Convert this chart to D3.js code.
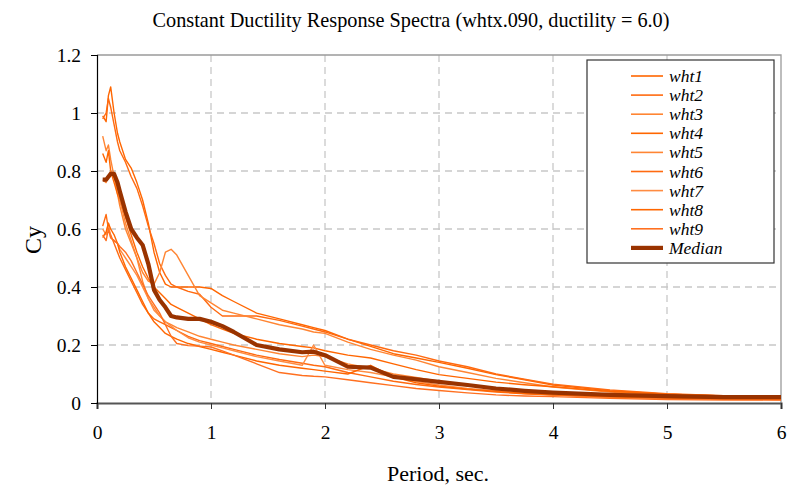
<!DOCTYPE html>
<html>
<head>
<meta charset="utf-8">
<script src="https://cdn.jsdelivr.net/npm/d3@7/dist/d3.min.js"></script>
<style>
  body { margin: 0; background: #fff; }
  text { font-family: "Liberation Serif", "Times New Roman", serif; fill: #000; }
</style>
</head>
<body>
<div id="chart"></div>
<script>
// periods (sec) shared by every series
const periods = [0.05,0.08,0.1,0.12,0.15,0.18,0.2,0.25,0.3,0.35,0.4,0.45,0.5,0.55,0.6,0.65,0.7,0.8,0.9,1.0,
                 1.1,1.2,1.4,1.6,1.8,1.9,2.0,2.2,2.4,2.6,2.8,3.0,3.25,3.5,3.75,4.0,4.5,5.0,5.5,6.0];

const wht1 = [0.99,0.97,1.06,1.09,1.00,0.93,0.90,0.84,0.81,0.76,0.70,0.62,0.52,0.45,0.41,0.40,0.40,0.40,0.40,0.395,
              0.37,0.35,0.31,0.29,0.27,0.26,0.25,0.22,0.195,0.17,0.155,0.14,0.12,0.098,0.08,0.062,0.042,0.03,0.024,0.02];
const wht2 = [0.98,1.00,1.05,1.02,0.96,0.90,0.87,0.83,0.78,0.74,0.68,0.61,0.55,0.48,0.44,0.41,0.40,0.385,0.375,0.33,
              0.30,0.30,0.30,0.285,0.265,0.255,0.245,0.22,0.20,0.18,0.165,0.145,0.125,0.10,0.082,0.065,0.045,0.032,0.025,0.02];
const wht3 = [0.92,0.87,0.89,0.84,0.78,0.72,0.68,0.60,0.55,0.50,0.45,0.42,0.41,0.45,0.52,0.53,0.51,0.44,0.37,0.345,
              0.32,0.31,0.29,0.27,0.255,0.245,0.24,0.21,0.185,0.165,0.148,0.125,0.105,0.085,0.07,0.055,0.038,0.028,0.022,0.018];
const wht4 = [0.86,0.83,0.87,0.80,0.76,0.72,0.70,0.64,0.58,0.52,0.47,0.43,0.40,0.38,0.36,0.34,0.33,0.31,0.29,0.27,
              0.255,0.24,0.22,0.205,0.195,0.19,0.18,0.165,0.155,0.135,0.115,0.098,0.085,0.072,0.063,0.056,0.04,0.03,0.024,0.02];
const wht5 = [0.77,0.76,0.78,0.80,0.78,0.74,0.70,0.62,0.56,0.50,0.42,0.36,0.33,0.30,0.28,0.27,0.26,0.245,0.23,0.22,
              0.21,0.20,0.185,0.17,0.16,0.165,0.16,0.135,0.12,0.10,0.088,0.075,0.062,0.052,0.042,0.035,0.027,0.022,0.018,0.016];
const wht6 = [0.61,0.65,0.60,0.58,0.55,0.52,0.50,0.46,0.42,0.38,0.34,0.31,0.29,0.28,0.27,0.26,0.25,0.23,0.215,0.205,
              0.195,0.185,0.165,0.15,0.137,0.13,0.125,0.105,0.09,0.075,0.064,0.055,0.046,0.038,0.032,0.027,0.02,0.016,0.013,0.012];
const wht7 = [0.60,0.58,0.62,0.57,0.56,0.55,0.53,0.50,0.47,0.44,0.40,0.36,0.32,0.30,0.28,0.265,0.25,0.225,0.21,0.20,
              0.19,0.18,0.16,0.145,0.13,0.20,0.13,0.115,0.105,0.09,0.075,0.062,0.05,0.042,0.035,0.028,0.02,0.016,0.013,0.012];
const wht8 = [0.57,0.59,0.62,0.60,0.58,0.55,0.52,0.47,0.43,0.39,0.35,0.31,0.28,0.26,0.24,0.23,0.22,0.205,0.195,0.185,
              0.175,0.165,0.145,0.13,0.12,0.115,0.11,0.10,0.13,0.09,0.07,0.058,0.048,0.04,0.033,0.028,0.021,0.017,0.014,0.012];
const wht9 = [0.58,0.56,0.60,0.57,0.56,0.55,0.54,0.52,0.49,0.45,0.41,0.37,0.34,0.31,0.27,0.23,0.205,0.198,0.196,0.193,
              0.18,0.165,0.135,0.105,0.095,0.092,0.09,0.08,0.07,0.06,0.05,0.043,0.035,0.028,0.024,0.022,0.016,0.012,0.01,0.01];
const median = [0.77,0.77,0.78,0.79,0.79,0.76,0.73,0.66,0.60,0.57,0.545,0.48,0.39,0.355,0.33,0.30,0.295,0.29,0.29,0.28,
                0.265,0.245,0.20,0.185,0.175,0.177,0.165,0.125,0.122,0.09,0.082,0.073,0.062,0.05,0.042,0.036,0.028,0.024,0.02,0.02];

const seriesNames = ["wht1","wht2","wht3","wht4","wht5","wht6","wht7","wht8","wht9","Median"];
const seriesValues = [wht1, wht2, wht3, wht4, wht5, wht6, wht7, wht8, wht9, median];
const seriesColors = ["#ff6600","#ff6a10","#ff8533","#ff6600","#ff8533","#ff6a10","#ff8c42","#ff6600","#ff7020","#993300"];

const xTicks = [0, 1, 2, 3, 4, 5, 6];
const yTicks = [0, 0.2, 0.4, 0.6, 0.8, 1.0, 1.2];
const yTickLabels = ["0", "0.2", "0.4", "0.6", "0.8", "1", "1.2"];

const chartTitle = "Constant Ductility Response Spectra (whtx.090, ductility = 6.0)";
const xTitle = "Period, sec.";

const W = 797, H = 488;
const margin = {top: 55, right: 16, bottom: 85, left: 97};
const innerW = W - margin.left - margin.right;
const innerH = H - margin.top - margin.bottom;

const svg = d3.select("#chart").append("svg")
    .attr("width", W)
    .attr("height", H);

const g = svg.append("g")
    .attr("transform", `translate(${margin.left},${margin.top})`);

const x = d3.scaleLinear().domain([0, 6]).range([0, innerW]);
const y = d3.scaleLinear().domain([0, 1.2]).range([innerH, 0]);

// dashed grid
g.append("g").selectAll("line")
    .data(xTicks.slice(1, -1))
    .join("line")
    .attr("x1", d => x(d)).attr("x2", d => x(d))
    .attr("y1", 0).attr("y2", innerH)
    .attr("stroke", "#c8c8c8").attr("stroke-width", 1.3)
    .attr("stroke-dasharray", "7,5");

g.append("g").selectAll("line")
    .data(yTicks.slice(1, -1))
    .join("line")
    .attr("x1", 0).attr("x2", innerW)
    .attr("y1", d => y(d)).attr("y2", d => y(d))
    .attr("stroke", "#c8c8c8").attr("stroke-width", 1.3)
    .attr("stroke-dasharray", "7,5");

// plot border (top + right)
g.append("path")
    .attr("d", `M0,${y(1.2)}H${x(6)}V${y(0)}`)
    .attr("fill", "none")
    .attr("stroke", "#9a9a9a")
    .attr("stroke-width", 1.3);

// axes
const xAxis = d3.axisBottom(x).tickValues(xTicks).tickSize(6).tickPadding(16).tickFormat(d3.format("d"));
const yAxis = d3.axisLeft(y).tickValues(yTicks).tickSize(6).tickPadding(10)
    .tickFormat((d, i) => yTickLabels[i]);

const xAxisG = g.append("g")
    .attr("transform", `translate(0,${innerH})`)
    .call(xAxis);
xAxisG.select(".domain").attr("stroke", "#555").attr("stroke-width", 2.2);
xAxisG.selectAll(".tick line").attr("stroke", "#333");
xAxisG.selectAll("text").attr("font-size", 19.5).attr("font-family", "Liberation Serif");

const yAxisG = g.append("g").call(yAxis);
yAxisG.select(".domain").attr("stroke", "#000").attr("stroke-width", 1.2);
yAxisG.selectAll(".tick line").attr("stroke", "#000");
yAxisG.selectAll("text").attr("font-size", 19.5).attr("font-family", "Liberation Serif");

// series lines
const line = d3.line()
    .x((d, i) => x(periods[i]))
    .y(d => y(d))
    .curve(d3.curveLinear);

g.append("g").selectAll("path")
    .data(seriesValues)
    .join("path")
    .attr("d", d => line(d))
    .attr("fill", "none")
    .attr("stroke", (d, i) => seriesColors[i])
    .attr("stroke-width", (d, i) => i === 9 ? 4.2 : 1.4)
    .attr("stroke-linejoin", "round");

// titles
svg.append("text")
    .attr("x", 411).attr("y", 27)
    .attr("text-anchor", "middle")
    .attr("font-size", 21)
    .attr("textLength", 517)
    .attr("lengthAdjust", "spacingAndGlyphs")
    .text(chartTitle);

svg.append("text")
    .attr("x", 438).attr("y", 481)
    .attr("text-anchor", "middle")
    .attr("font-size", 22)
    .text(xTitle);

const yLab = svg.append("text")
    .attr("transform", "translate(41,240) rotate(-90)")
    .attr("text-anchor", "middle")
    .attr("font-size", 24);
yLab.append("tspan").text("C");
yLab.append("tspan").text("y");

// legend
const legend = svg.append("g").attr("transform", "translate(587,60)");
legend.append("rect")
    .attr("width", 187).attr("height", 203)
    .attr("fill", "#fff").attr("stroke", "#333").attr("stroke-width", 1.2);

const rows = legend.selectAll("g.row")
    .data(seriesNames)
    .join("g")
    .attr("class", "row")
    .attr("transform", (d, i) => `translate(0,${16 + i * 19.1})`);

rows.append("line")
    .attr("x1", 44).attr("x2", 76)
    .attr("stroke", (d, i) => seriesColors[i])
    .attr("stroke-width", (d, i) => i === 9 ? 4.2 : 1.6);

rows.append("text")
    .attr("x", 82).attr("y", 6)
    .attr("font-size", 17.5)
    .attr("font-style", "italic")
    .text(d => d);
</script>
</body>
</html>
